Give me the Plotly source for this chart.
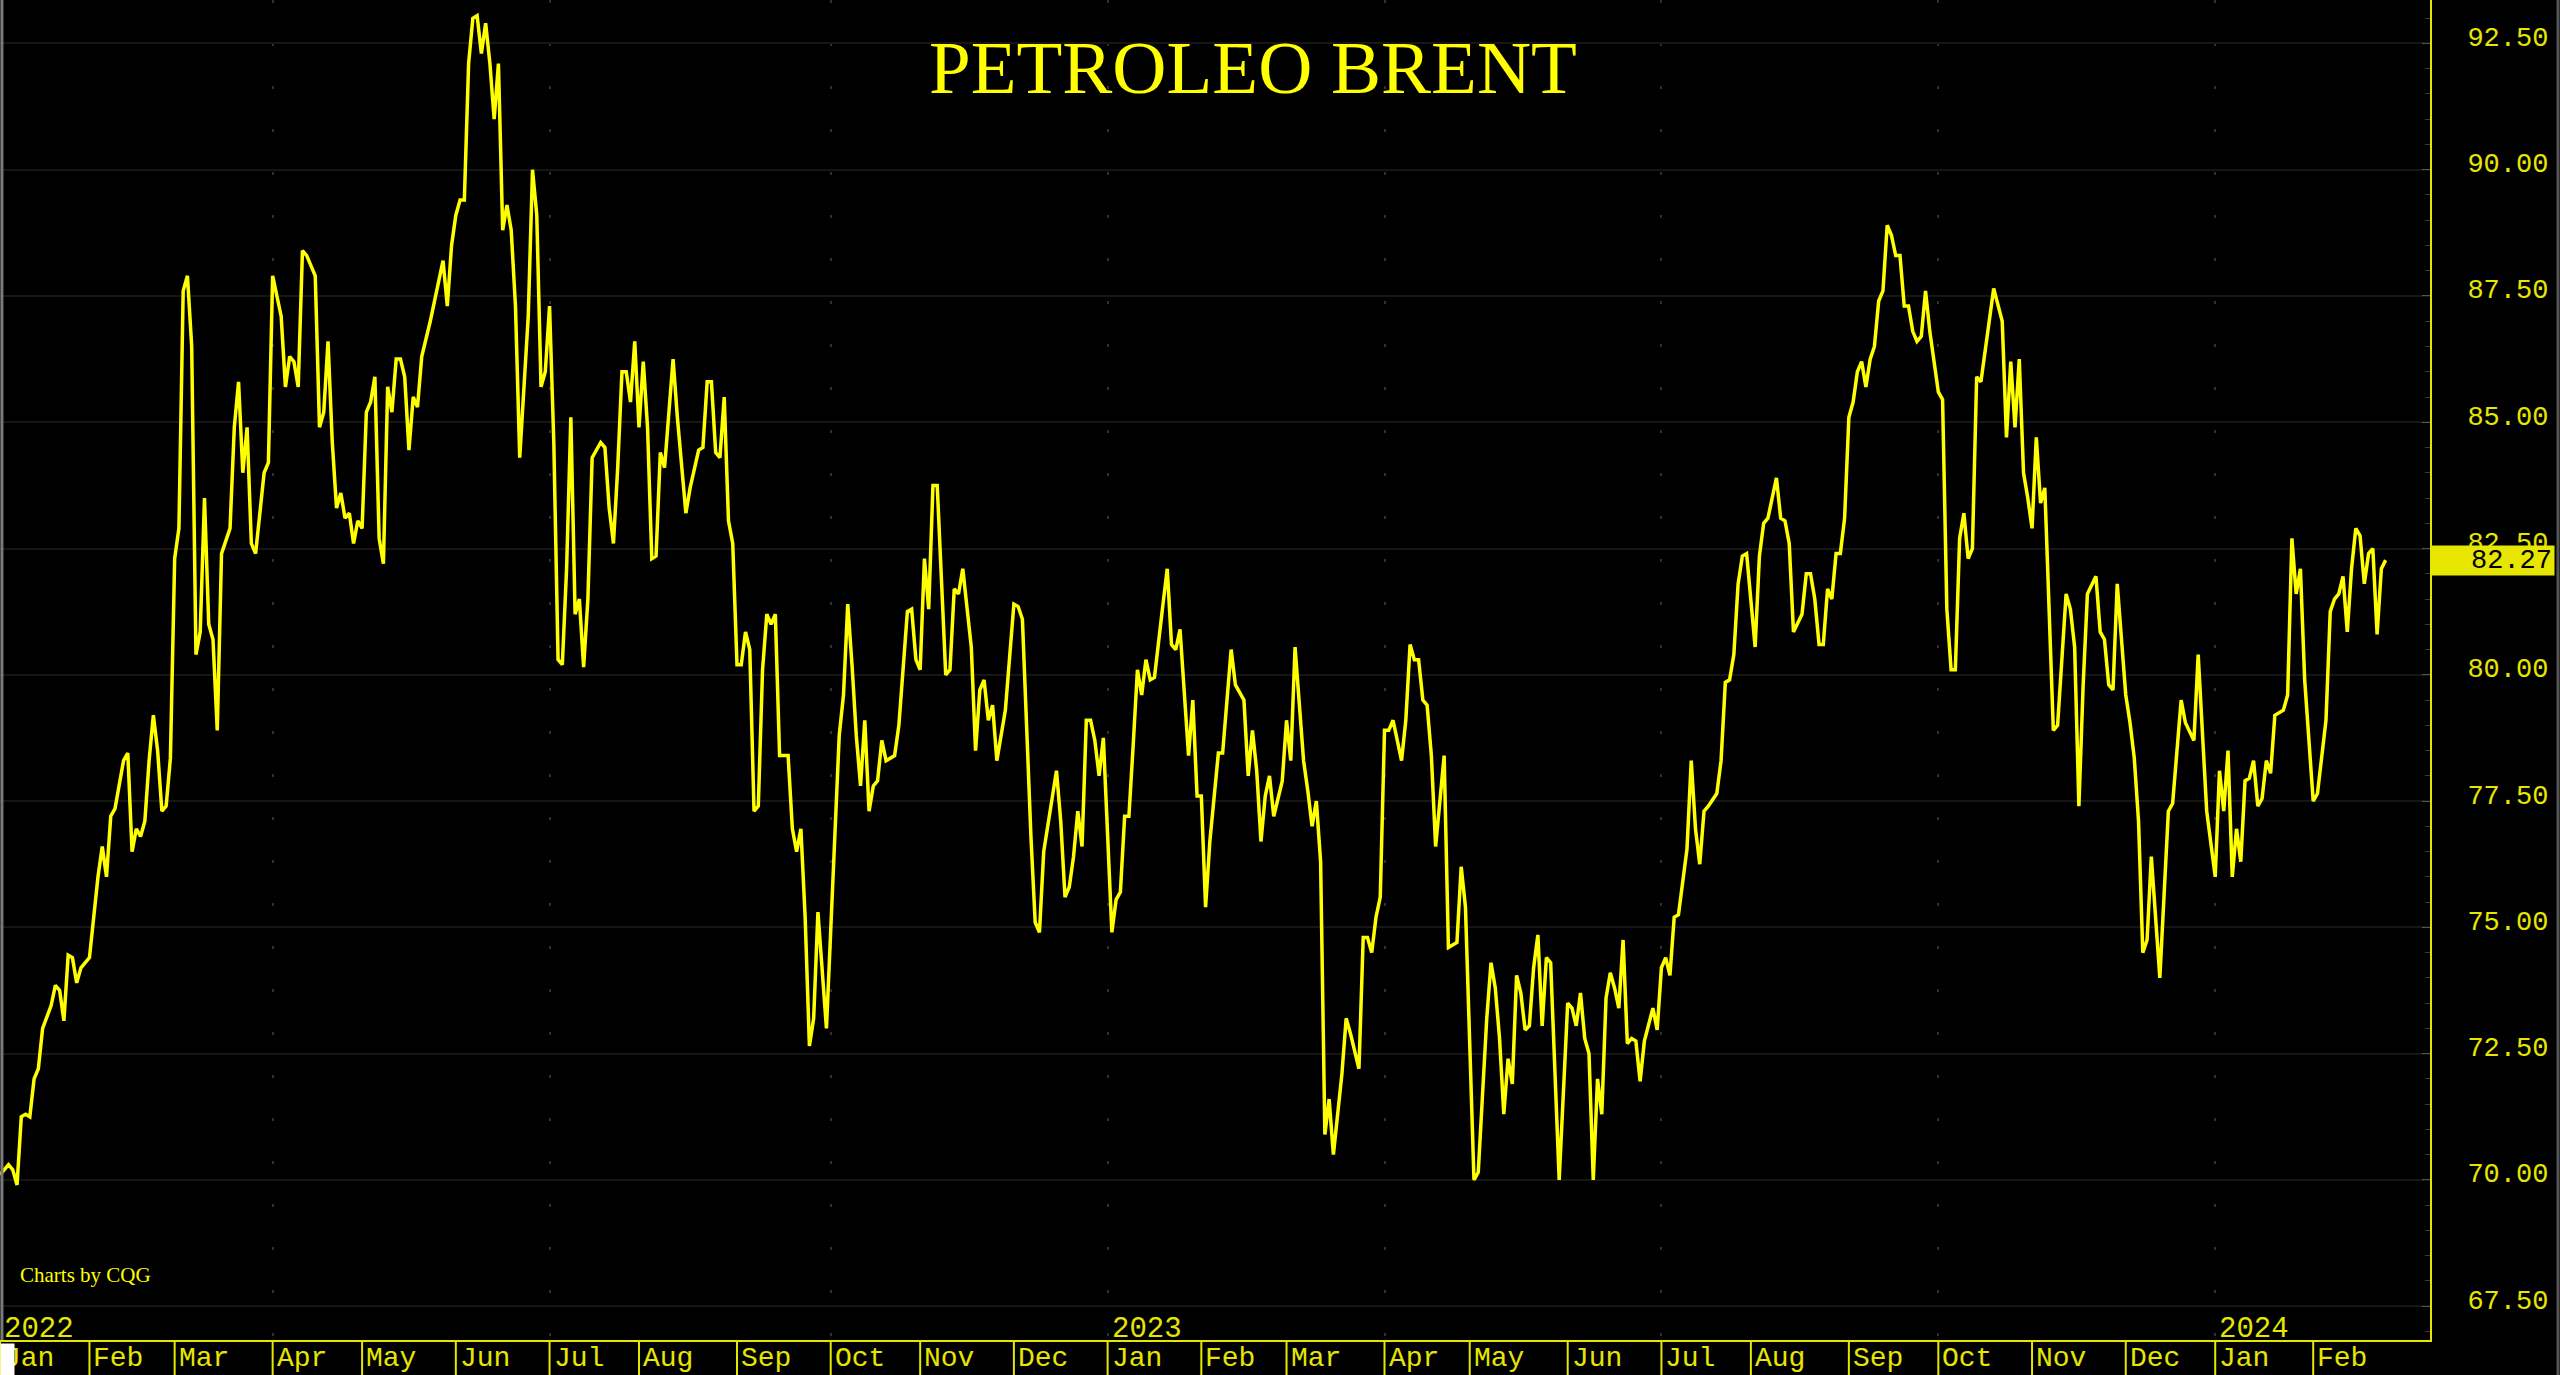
import numpy as np
import plotly.graph_objects as go

# ---------------- data ----------------
start_session = "2022-01-03"   # session 0
# trading-session number (weekdays since start) and settlement price
day = [0, 2, 3, 4, 5, 6, 7, 8, 9, 10, 12, 13, 14, 15, 16, 17, 18, 19, 21, 22, 23, 24, 25, 26, 27, 29, 30,
       31, 32, 33, 34, 35, 36, 37, 38, 39, 40, 41, 42, 43, 44, 45, 46, 47, 48, 49, 50, 51, 52, 54, 55, 56,
       57, 58, 59, 60, 62, 63, 64, 66, 67, 68, 69, 70, 71, 72, 74, 75, 76, 77, 78, 79, 80, 81, 82, 83, 84,
       85, 86, 87, 88, 89, 90, 91, 92, 93, 94, 95, 96, 97, 98, 99, 101, 103, 104, 105, 106, 107, 108, 109,
       110, 111, 112, 113, 114, 115, 116, 117, 118, 119, 120, 121, 122, 124, 125, 126, 127, 128, 129, 130,
       131, 132, 133, 134, 135, 136, 137, 138, 139,
       141, 142, 143, 144, 145, 146, 147, 148, 149, 150, 151, 152, 153, 154, 155, 156, 158, 159, 161, 162,
       164, 165, 166, 167, 168, 169, 170, 171, 172, 173, 174, 175, 176, 177, 178, 179, 180, 181, 182, 183,
       185, 186, 187, 188, 189, 190, 191, 192, 194, 197, 198, 199, 200, 201, 202, 203, 204, 205, 206, 207,
       208, 209, 210, 211, 213, 214, 215, 216, 217, 218, 219, 220, 221, 222, 223, 224, 225, 226, 228, 229,
       230, 231, 232, 233, 234, 235, 236, 238, 239, 240, 242, 243, 244, 245, 248, 249, 250, 251, 252, 253,
       254, 255, 256, 257, 258, 259, 260, 261, 262, 263, 264, 265, 266, 267, 268, 269, 270, 271, 273, 274,
       275, 276, 277, 278, 279, 280, 281,
       282, 283, 284, 285, 286, 287, 289, 290, 292, 293, 294, 295, 296, 297, 298, 299, 301, 302, 303, 304,
       306, 307, 308, 309, 310, 311, 312, 313, 315, 316, 317, 319, 320, 321, 322, 323, 324, 325, 326, 327,
       329, 330, 331, 332, 333, 334, 335, 336, 337, 339, 340, 342, 343, 344, 346, 347, 349, 350, 351, 352,
       353, 354, 355, 356, 357, 358, 359, 360, 361, 362, 363, 364, 366, 368, 369, 370, 371, 372, 373, 374,
       375, 376, 377, 378, 379, 380, 381, 382, 383, 384, 385, 386, 387, 388, 389, 390, 391, 392, 393, 394,
       396, 397, 398, 399, 400, 401, 403, 404, 405, 406, 407, 408, 409, 410, 412, 413, 414, 415, 417, 418,
       419, 420, 421, 423, 424, 425, 426, 427,
       428, 429, 430, 431, 432, 433, 434, 435, 436, 437, 438, 439, 440, 441, 442, 443, 444, 445, 446, 447,
       448, 449, 450, 451, 452, 453, 455, 456, 457, 458, 459, 460, 461, 462, 463, 464, 465, 466, 467, 468,
       470, 471, 472, 473, 474, 475, 476, 477, 478, 479, 480, 481, 482, 483, 485, 486, 487, 488, 489, 490,
       492, 493, 494, 495, 496, 497, 499, 500, 501, 502, 503, 504, 505, 507, 508, 509, 510, 512, 513, 515,
       516, 517, 518, 520, 521, 522, 523, 524, 525, 526, 527, 528, 529, 530, 531, 532, 533, 534, 536, 537,
       538, 539, 540, 541, 543, 544, 545, 546, 547, 548, 549, 550, 551, 552, 553, 554, 555, 556, 557, 558,
       559, 560]

price = [70.1, 70.3, 70.2, 69.9, 71.25, 71.3, 71.25, 72.0, 72.2, 73.0, 73.45, 73.85, 73.75, 73.15, 74.45,
         74.4, 73.9, 74.2, 74.4, 75.2, 76.0, 76.6, 76.0, 77.2, 77.35, 78.3, 78.45,
         76.5, 76.95, 76.8, 77.1, 78.3, 79.2, 78.5, 77.3, 77.4, 78.35, 82.3, 82.9, 87.6, 87.9, 86.5, 80.4,
         80.85, 83.5, 81.0, 80.7, 78.9, 82.4, 82.9, 84.9, 85.8,
         84.0, 84.9, 82.6, 82.4, 84.0, 84.2, 87.9, 87.1, 85.7, 86.3, 86.2, 85.7, 88.4, 88.3, 87.9, 84.9,
         85.2, 86.6, 84.6, 83.3, 83.6, 83.1, 83.2, 82.6, 83.05,
         82.9, 85.2, 85.4, 85.9, 82.7, 82.2, 85.7, 85.2, 86.25, 86.25, 85.9, 84.45, 85.5, 85.3, 86.3, 87.0,
         87.8, 88.2, 87.3, 88.5, 89.1, 89.4, 89.4,
         92.1, 93.0, 93.05, 92.3, 92.9, 92.1, 91.0, 92.1, 88.8, 89.3, 88.8, 87.3, 84.3, 87.1, 90.0, 89.1,
         85.7, 86.0, 87.3, 84.6,
         80.3, 80.2, 82.1, 85.1, 81.2, 81.5, 80.15, 81.5, 84.3,
         84.6, 84.5, 83.3, 82.6, 84.1, 86.0, 86.0, 85.4, 86.6, 84.9, 86.2, 84.9, 82.3, 82.35, 84.4, 84.1,
         86.25, 85.1, 83.2, 83.7,
         84.45, 84.5, 85.8, 85.8, 84.4, 84.3, 85.5, 83.05, 82.6, 80.2, 80.2, 80.85, 80.5, 77.3, 77.4, 80.1,
         81.2, 81.0, 81.2, 78.4,
         78.4, 76.95, 76.5, 76.95, 75.2, 72.65, 73.2, 75.3, 73.0, 78.8, 79.6, 81.4, 80.2, 78.8, 77.8, 79.1,
         77.3, 77.8, 77.9, 78.7,
         78.3, 78.35, 78.4, 79.0, 81.25, 81.3, 80.3, 80.1, 82.3, 81.3, 83.75, 83.75, 81.8, 80.0, 80.1, 81.7,
         81.6, 82.1, 80.55, 78.5,
         79.7, 79.9, 79.1, 79.4, 78.3, 78.8, 79.3, 81.4, 81.35, 81.1, 76.8, 75.1, 74.9, 76.5, 78.1, 77.1,
         75.6, 75.8, 76.4, 77.3,
         76.6, 79.1, 79.1, 78.7, 78.0, 78.75, 77.0, 74.9, 75.55, 75.7, 77.2, 77.2, 78.6, 80.1, 79.6, 80.3,
         79.9, 79.95, 81.4, 82.1,
         80.6, 80.5, 80.9, 79.6, 78.4, 79.5, 77.6,
         77.6, 75.4, 76.7, 77.6, 78.45, 78.45, 80.5, 79.8, 79.5, 78.0, 78.9, 78.1, 76.7, 77.6, 78.0, 77.2,
         77.9, 79.1, 78.3, 80.55,
         78.3, 77.7, 77.0, 77.5, 76.3, 70.9, 71.6, 70.5, 72.1, 73.2, 72.9, 72.2, 74.8, 74.8, 74.5, 75.2,
         75.6, 78.9, 78.9, 79.1,
         78.3, 79.1, 80.6, 80.3, 80.3, 79.5, 79.4, 78.4, 76.6, 78.4, 74.6, 74.7, 76.2, 75.4, 70.0, 70.15,
         73.2, 74.3, 73.8, 72.8,
         71.3, 72.4, 71.9, 74.05, 73.7, 72.97, 73.05, 74.2, 74.85, 73.05, 74.4, 74.3, 70.0, 73.5, 73.4, 73.05,
         73.7, 72.8, 72.5, 70.0,
         72.0, 71.3, 73.6, 74.1, 73.8, 73.4, 74.75, 72.7, 72.8, 72.75, 71.95, 72.75, 73.1, 73.4, 72.97, 74.2,
         74.4, 74.05, 75.2, 75.25,
         76.55, 78.3, 76.95, 76.25, 77.3, 77.4, 77.65, 78.3, 79.85, 79.9, 80.4, 81.8, 82.35, 82.4, 80.55,
         82.35, 83.0, 83.1, 83.9, 83.1,
         83.05, 82.6, 80.85, 81.2, 82.0, 82.0, 81.5, 80.6,
         80.6, 81.7, 81.5, 82.4, 82.4, 83.1, 85.1, 85.4, 86.0, 86.2, 85.7, 86.25, 86.5, 87.4, 87.6, 88.9,
         88.7, 88.3, 88.3, 87.3,
         87.3, 86.8, 86.6, 86.7, 87.6, 86.8, 85.6, 85.45, 81.3, 80.1, 80.1, 82.7, 83.2, 82.3, 82.5, 85.9,
         85.8, 86.4, 86.95, 87.65,
         87.0, 84.7, 86.2, 84.9, 86.25, 84.0, 83.5, 82.9, 84.7, 83.4, 83.7, 81.5, 78.9, 79.0, 81.6, 81.3,
         80.55, 77.4, 79.8, 81.6,
         81.95, 80.85, 80.7, 79.8, 79.7, 81.8, 79.6, 79.05, 78.35, 77.1, 74.5, 74.75, 76.4, 74.0, 75.8, 77.3,
         77.45, 79.5, 79.05, 78.7,
         80.4, 78.8, 77.3, 76.0, 78.1, 77.3, 78.5, 76.0, 76.95, 76.3, 77.9, 77.95, 78.3, 77.4, 77.55, 78.3,
         78.05, 79.2, 79.3, 79.6,
         82.7, 81.6, 82.1, 79.9, 77.5, 77.65, 78.4, 79.1, 81.25, 81.5, 81.6, 81.95, 80.85, 82.1, 82.9, 82.75,
         81.8, 82.4, 82.5, 80.8,
         82.1, 82.27]

month_starts = ["2022-01-03", "2022-02-01", "2022-03-01", "2022-04-01", "2022-05-02", "2022-06-01",
                "2022-07-01", "2022-08-01", "2022-09-01", "2022-10-03", "2022-11-01", "2022-12-01",
                "2023-01-02", "2023-02-01", "2023-03-01", "2023-04-03", "2023-05-01", "2023-06-01",
                "2023-07-03", "2023-08-01", "2023-09-01", "2023-10-02", "2023-11-01", "2023-12-01",
                "2024-01-01", "2024-02-01"]
month_labels = ["Jan", "Feb", "Mar", "Apr", "May", "Jun", "Jul", "Aug", "Sep", "Oct", "Nov", "Dec",
                "Jan", "Feb", "Mar", "Apr", "May", "Jun", "Jul", "Aug", "Sep", "Oct", "Nov", "Dec",
                "Jan", "Feb"]
year_starts = ["2022-01-03", "2023-01-02", "2024-01-01"]
year_labels = ["2022", "2023", "2024"]
quarter_starts = ["2022-04-01", "2022-07-01", "2022-10-03", "2023-01-02", "2023-04-03",
                  "2023-07-03", "2023-10-02", "2024-01-01"]
x_range = ["2022-01-03", "2024-03-11 10:00"]
y_range = [66.83, 93.36]

title_text = "PETROLEO BRENT"
credit_text = "Charts by CQG"

# ---------------- figure ----------------
dates = np.busday_offset(start_session, day).astype(str).tolist()

YEL = "#FFFF00"
AXY = "#E6E600"
MONO = "Liberation Mono, DejaVu Sans Mono, monospace"
SERIF = "Liberation Serif, Times New Roman, serif"

fig = go.Figure()
fig.add_trace(go.Scatter(x=dates, y=price, mode="lines",
                         line=dict(color=YEL, width=3.5), hoverinfo="skip"))

W, H = 2560, 1375
ML, MR, MT, MB = 0, 130, 0, 35
plot_h = H - MT - MB
plot_w = W - ML - MR

fig.update_layout(
    width=W, height=H,
    margin=dict(l=ML, r=MR, t=MT, b=MB, pad=0, autoexpand=False),
    paper_bgcolor="black", plot_bgcolor="black",
    showlegend=False,
    xaxis=dict(type="date", range=x_range, automargin=False,
               rangebreaks=[dict(bounds=["sat", "mon"])],
               tickmode="array", tickvals=quarter_starts, showticklabels=False, ticks="",
               showgrid=True, gridcolor="#303030", gridwidth=2, griddash="3px,40px",
               showline=True, linecolor=AXY, linewidth=2, zeroline=False),
    yaxis=dict(side="right", range=y_range, automargin=False,
               tickmode="linear", tick0=67.5, dtick=2.5, tickformat=".2f",
               showgrid=True, gridcolor="#161616", gridwidth=2,
               ticks="inside", ticklen=8, tickcolor="#555555", tickwidth=1,
               minor=dict(tick0=67.5, dtick=0.5, ticks="inside", ticklen=5,
                          tickcolor="#3a3a3a", showgrid=False),
               tickfont=dict(family=MONO, size=27, color=AXY),
               ticklabelstandoff=30, ticklabelshift=-7,
               showline=True, linecolor=AXY, linewidth=2, zeroline=False),
)

annotations = []
shapes = []

# title & credit
annotations.append(dict(text=title_text, xref="paper", yref="paper", x=1253 / plot_w,
                        y=1 - 67 / plot_h, xanchor="center", yanchor="middle", showarrow=False,
                        font=dict(family=SERIF, size=75, color=YEL)))
annotations.append(dict(text=credit_text, xref="paper", yref="paper", x=18 / plot_w,
                        y=1 - 1275 / plot_h, xanchor="left", yanchor="middle", showarrow=False,
                        font=dict(family=SERIF, size=21, color=YEL)))

# month strip
strip = MB / plot_h
for d, lab in zip(month_starts, month_labels):
    shapes.append(dict(type="line", xref="x", yref="paper", x0=d, x1=d, y0=0, y1=-strip,
                       line=dict(color=AXY, width=2)))
    annotations.append(dict(text=lab, xref="x", yref="paper", x=d, y=-strip / 2, xanchor="left",
                            yanchor="middle", xshift=3, yshift=0, showarrow=False,
                            height=30, borderpad=0,
                            font=dict(family=MONO, size=28, color=AXY)))
for d, lab in zip(year_starts, year_labels):
    annotations.append(dict(text=lab, xref="x", yref="paper", x=d, y=0, xanchor="left",
                            yanchor="bottom", xshift=2, yshift=-8, showarrow=False,
                            font=dict(family=MONO, size=29, color=AXY)))

# last value box
annotations.append(dict(text=f"{price[-1]:.2f}", xref="paper", yref="y", x=1, y=price[-1],
                        xanchor="left", yanchor="middle", xshift=1, showarrow=False,
                        bgcolor=AXY, borderpad=2, width=118, height=25, align="right",
                        font=dict(family=MONO, size=27, color="black")))
# white marker at bottom-left of strip
annotations.append(dict(text=" ", xref="paper", yref="paper", x=0, y=0, xanchor="left",
                        yanchor="top", yshift=-3, showarrow=False, bgcolor="white",
                        borderpad=0, width=13, height=32, font=dict(size=10)))

# left and right frame edges
shapes.append(dict(type="line", xref="paper", yref="paper", x0=0.0008, x1=0.0008, y0=0, y1=1,
                   line=dict(color="#7a7a7a", width=3)))
shapes.append(dict(type="line", xref="paper", yref="paper", x0=(W - 2) / plot_w,
                   x1=(W - 2) / plot_w, y0=-strip, y1=1, line=dict(color="#555555", width=3)))

fig.update_layout(annotations=annotations, shapes=shapes)
fig.write_html("out.html",
               config={"displayModeBar": False},
               post_script="document.body.style.margin='0';"
                           "document.body.style.background='black';"
                           "document.body.style.overflow='hidden';")
